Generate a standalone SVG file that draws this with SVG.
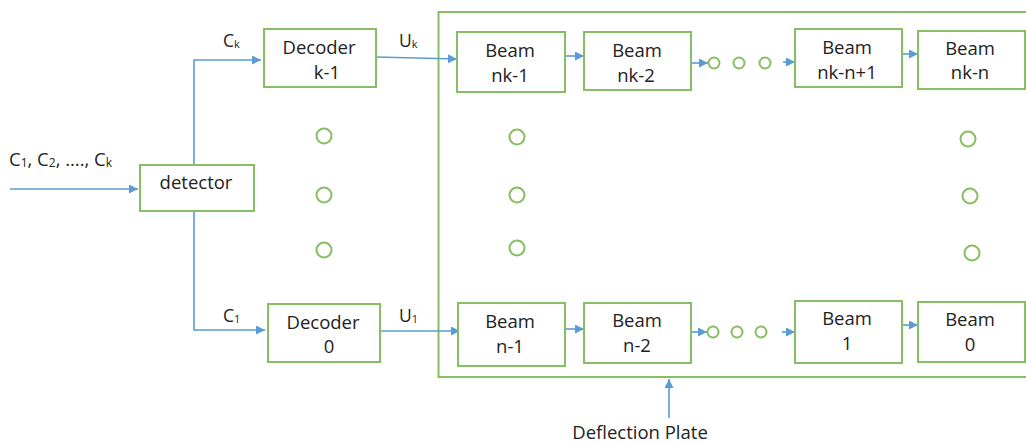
<svg xmlns="http://www.w3.org/2000/svg" width="1026" height="443" viewBox="0 0 1026 443">
<defs>
<style>
.box{fill:#fff;stroke:#86BE62;stroke-width:2}
.dot{fill:none;stroke:#86BE62;stroke-width:2}
.ln{fill:none;stroke:#5B9BD5;stroke-width:1.6}
text{font-family:"Open Sans","Liberation Sans",sans-serif;fill:#222}
.t{font-size:18.5px;text-anchor:middle}
.lb{font-size:17.5px}
.s{font-size:11px}
</style>
<marker id="ah" viewBox="0 0 10 10" refX="10" refY="5" markerWidth="10" markerHeight="9" markerUnits="userSpaceOnUse" orient="auto">
<path d="M0,0 L10,5 L0,10 z" fill="#5B9BD5"/>
</marker>
</defs>
<rect width="1026" height="443" fill="#fff"/>

<g id="plate">
<path d="M1027,12 H438.5 V377 H1027" fill="none" stroke="#86BE62" stroke-width="2"/>
</g>

<g id="connectors">
<line class="ln" x1="10" y1="189" x2="138" y2="189" marker-end="url(#ah)"/>
<polyline class="ln" points="194,165 194,60 261,60" marker-end="url(#ah)"/>
<polyline class="ln" points="194,211 194,330 265,330" marker-end="url(#ah)"/>
<line class="ln" x1="376" y1="57" x2="457" y2="59" marker-end="url(#ah)"/>
<line class="ln" x1="380" y1="331" x2="460" y2="331" marker-end="url(#ah)"/>
<line class="ln" x1="565" y1="56" x2="584" y2="56" marker-end="url(#ah)"/>
<line class="ln" x1="691" y1="63" x2="708" y2="63" marker-end="url(#ah)"/>
<line class="ln" x1="783" y1="62" x2="795" y2="62" marker-end="url(#ah)"/>
<line class="ln" x1="902" y1="54" x2="918" y2="54" marker-end="url(#ah)"/>
<line class="ln" x1="566" y1="329" x2="584" y2="329" marker-end="url(#ah)"/>
<line class="ln" x1="690" y1="332" x2="707" y2="332" marker-end="url(#ah)"/>
<line class="ln" x1="782" y1="332" x2="795" y2="332" marker-end="url(#ah)"/>
<line class="ln" x1="902" y1="325" x2="918" y2="325" marker-end="url(#ah)"/>
<line class="ln" x1="669" y1="418" x2="669" y2="379" marker-end="url(#ah)"/>
</g>

<g id="labels">
<text class="lb" x="9" y="166" style="font-size:18.5px">C<tspan class="s" dy="1" style="font-size:12px">1</tspan><tspan dy="-1">, C</tspan><tspan class="s" dy="1" style="font-size:12px">2</tspan><tspan dy="-1">, …., C</tspan><tspan class="s" dy="1" style="font-size:12px">k</tspan></text>
<text class="lb" x="223" y="47">C<tspan class="s" dy="1">k</tspan></text>
<text class="lb" x="399" y="47">U<tspan class="s" dy="1">k</tspan></text>
<text class="lb" x="223" y="322">C<tspan class="s" dy="1">1</tspan></text>
<text class="lb" x="399" y="322">U<tspan class="s" dy="1">1</tspan></text>
<text class="t" x="640" y="439">Deflection Plate</text>
</g>

<g id="detector">
<rect class="box" x="140" y="165" width="114" height="46"/>
<text class="t" x="196" y="189">detector</text>
</g>

<g id="decoder-k-1">
<rect class="box" x="264" y="29" width="112" height="58"/>
<text class="t" x="319" y="54">Decoder</text>
<text class="t" x="327" y="79">k-1</text>
</g>

<g id="decoder-0">
<rect class="box" x="268" y="304" width="112" height="58"/>
<text class="t" x="323" y="329">Decoder</text>
<text class="t" x="329" y="353">0</text>
</g>

<g id="beam-nk-1">
<rect class="box" x="457" y="32" width="108" height="60"/>
<text class="t" x="510" y="57">Beam</text>
<text class="t" x="510" y="82">nk-1</text>
</g>
<g id="beam-nk-2">
<rect class="box" x="584" y="32" width="107" height="58"/>
<text class="t" x="637" y="57">Beam</text>
<text class="t" x="636" y="82">nk-2</text>
</g>
<g id="beam-nk-n1">
<rect class="box" x="795" y="29" width="107" height="58"/>
<text class="t" x="847" y="54">Beam</text>
<text class="t" x="847" y="79">nk-n+1</text>
</g>
<g id="beam-nk-n">
<rect class="box" x="918" y="31" width="107" height="58"/>
<text class="t" x="970" y="55">Beam</text>
<text class="t" x="970" y="79">nk-n</text>
</g>
<g id="beam-n-1">
<rect class="box" x="458" y="303" width="107" height="63"/>
<text class="t" x="510" y="328">Beam</text>
<text class="t" x="510" y="353">n-1</text>
</g>
<g id="beam-n-2">
<rect class="box" x="584" y="303" width="107" height="60"/>
<text class="t" x="637" y="327">Beam</text>
<text class="t" x="637" y="352">n-2</text>
</g>
<g id="beam-1">
<rect class="box" x="795" y="301" width="107" height="62"/>
<text class="t" x="847" y="325">Beam</text>
<text class="t" x="847" y="350">1</text>
</g>
<g id="beam-0">
<rect class="box" x="918" y="302" width="107" height="60"/>
<text class="t" x="970" y="326">Beam</text>
<text class="t" x="970" y="351">0</text>
</g>

<g id="ellipsis-dots">
<circle class="dot" cx="324" cy="136" r="7.5"/>
<circle class="dot" cx="324" cy="195" r="7.5"/>
<circle class="dot" cx="324" cy="250" r="7.5"/>
<circle class="dot" cx="517" cy="137" r="7.5"/>
<circle class="dot" cx="517" cy="195" r="7.5"/>
<circle class="dot" cx="517" cy="248" r="7.5"/>
<circle class="dot" cx="968" cy="139" r="7.5"/>
<circle class="dot" cx="970" cy="196" r="7.5"/>
<circle class="dot" cx="972" cy="253" r="7.5"/>
<circle class="dot" cx="714" cy="63" r="5.5"/>
<circle class="dot" cx="739" cy="63" r="5.5"/>
<circle class="dot" cx="765" cy="63" r="5.5"/>
<circle class="dot" cx="713" cy="332" r="5.5"/>
<circle class="dot" cx="737" cy="332" r="5.5"/>
<circle class="dot" cx="761" cy="332" r="5.5"/>
</g>
</svg>
